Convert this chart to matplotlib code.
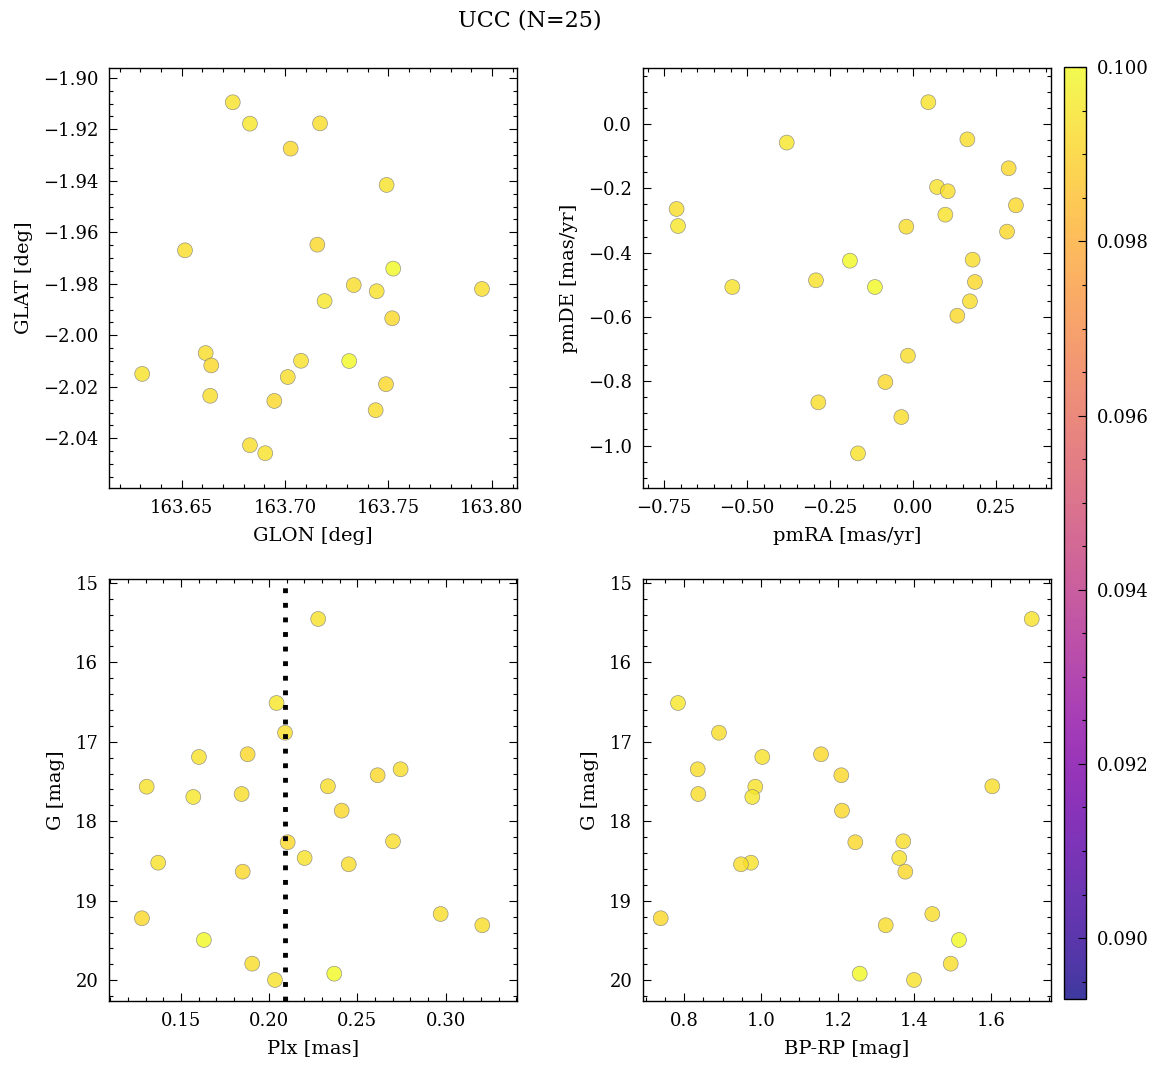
import matplotlib
matplotlib.use("Agg")
import matplotlib.pyplot as plt
import numpy as np
from matplotlib.colors import Normalize

plt.rcParams['font.family'] = ['DejaVu Serif']
plt.rcParams['mathtext.fontset'] = 'dejavuserif'

# ---- data (25 stars) ----
glon = [163.6747, 163.6830, 163.7169, 163.7027, 163.7491, 163.6516, 163.7156,
        163.7332, 163.7443, 163.7952, 163.7191, 163.7518, 163.6616, 163.6643,
        163.6309, 163.7077, 163.7013, 163.7488, 163.6638, 163.6948, 163.7438,
        163.7523, 163.6830, 163.7310, 163.6904]
glat = [-1.9095, -1.9178, -1.9177, -1.9275, -1.9416, -1.9670, -1.9648,
        -1.9805, -1.9829, -1.9820, -1.9867, -1.9934, -2.0069, -2.0117,
        -2.0150, -2.0099, -2.0162, -2.0190, -2.0235, -2.0255, -2.0291,
        -1.9741, -2.0427, -2.0100, -2.0458]
pmra = [0.0455, -0.381, 0.163, 0.2874, 0.0717, 0.1039, 0.3093, -0.7127, 0.0967,
        -0.0208, -0.7084, 0.2825, 0.1789, 0.1858, -0.293, -0.5449, 0.1708,
        0.1328, -0.016, -0.084, -0.2858, -0.1906, -0.0358, -0.1154, -0.1663]
pmde = [0.0675, -0.058, -0.048, -0.1378, -0.196, -0.2094, -0.2529, -0.2644,
        -0.2821, -0.3194, -0.3173, -0.3349, -0.422, -0.4914, -0.4862, -0.507,
        -0.5515, -0.5962, -0.7206, -0.8025, -0.8657, -0.4252, -0.9113, -0.507,
        -1.0243]
plx = [0.2278, 0.2042, 0.2090, 0.1878, 0.1602, 0.2745, 0.2615, 0.2333, 0.1306,
       0.1844, 0.1570, 0.2411, 0.2702, 0.2105, 0.2201, 0.1371, 0.2451, 0.1850,
       0.2972, 0.1279, 0.3208, 0.1630, 0.1904, 0.2369, 0.2033]
gmag = [15.455, 16.512, 16.886, 17.157, 17.191, 17.346, 17.421, 17.560, 17.565,
        17.657, 17.694, 17.866, 18.252, 18.264, 18.462, 18.521, 18.541, 18.634,
        19.166, 19.220, 19.308, 19.493, 19.791, 19.917, 19.996]
bprp = [1.706, 0.7836, 0.8905, 1.1565, 1.0034, 0.8350, 1.2094, 1.6031, 0.9851,
        0.8365, 0.9773, 1.2112, 1.3710, 1.2459, 1.3606, 0.9739, 0.9478, 1.3763,
        1.4467, 0.7385, 1.3252, 1.5163, 1.4947, 1.2574, 1.3990]
prob = [0.0994, 0.0995, 0.0993, 0.0992, 0.0994, 0.0993, 0.0992, 0.0993, 0.0994,
        0.0993, 0.0995, 0.0992, 0.0993, 0.0992, 0.0994, 0.0994, 0.0993, 0.0992,
        0.0993, 0.0992, 0.0993, 0.1000, 0.0993, 0.1000, 0.0994]
plx_median = 0.209
n_stars = len(gmag)

vmin, vmax = 0.0893, 0.1000
W, H = 1161, 1067
fig = plt.figure(figsize=(W / 100, H / 100), dpi=100)

def box(x0, y0, x1, y1):
    return [x0 / W, 1 - y1 / H, (x1 - x0) / W, (y1 - y0) / H]

ax1 = fig.add_axes(box(109.3, 68.3, 516.7, 487.7))
ax2 = fig.add_axes(box(643.3, 68.3, 1050.7, 487.7))
ax3 = fig.add_axes(box(109.3, 579.3, 516.7, 1000.7))
ax4 = fig.add_axes(box(643.3, 579.3, 1050.7, 1000.7))
cax = fig.add_axes(box(1064.3, 67.3, 1086.0, 999.0))

norm = Normalize(vmin=vmin, vmax=vmax)
kw = dict(c=prob, cmap='plasma', norm=norm, s=115, alpha=0.8,
          edgecolors='grey', linewidths=0.5, zorder=3)

sc = ax1.scatter(glon, glat, **kw)
ax2.scatter(pmra, pmde, **kw)
ax3.scatter(plx, gmag, **kw)
ax4.scatter(bprp, gmag, **kw)
ax3.axvline(plx_median, color='black', lw=3.5, linestyle=(0, (1, 2)), zorder=4)

ax1.set_xlim(163.615, 163.812)
ax1.set_ylim(-2.0592, -1.8963)
ax2.set_xlim(-0.813, 0.414)
ax2.set_ylim(-1.131, 0.173)
ax3.set_xlim(0.1094, 0.3403)
ax3.set_ylim(20.257, 14.956)
ax4.set_xlim(0.6931, 1.7554)
ax4.set_ylim(20.257, 14.956)

ax1.set_xticks([163.65, 163.70, 163.75, 163.80])
ax1.set_yticks([-1.90, -1.92, -1.94, -1.96, -1.98, -2.00, -2.02, -2.04])
ax2.set_xticks([-0.75, -0.50, -0.25, 0.00, 0.25])
ax2.set_yticks([0.0, -0.2, -0.4, -0.6, -0.8, -1.0])
ax3.set_xticks([0.15, 0.20, 0.25, 0.30])
ax3.set_yticks([15, 16, 17, 18, 19, 20])
ax4.set_xticks([0.8, 1.0, 1.2, 1.4, 1.6])
ax4.set_yticks([15, 16, 17, 18, 19, 20])

tfs, lfs = 13, 14
lp = 7
ax1.set_xlabel('GLON [deg]', fontsize=lfs, labelpad=lp)
ax1.set_ylabel('GLAT [deg]', fontsize=lfs, labelpad=lp)
ax2.set_xlabel('pmRA [mas/yr]', fontsize=lfs, labelpad=lp)
ax2.set_ylabel('pmDE [mas/yr]', fontsize=lfs, labelpad=lp)
ax3.set_xlabel('Plx [mas]', fontsize=lfs, labelpad=lp)
ax3.set_ylabel('G [mag]', fontsize=lfs, labelpad=lp)
ax4.set_xlabel('BP-RP [mag]', fontsize=lfs, labelpad=lp)
ax4.set_ylabel('G [mag]', fontsize=lfs, labelpad=lp)

for ax in (ax1, ax2, ax3, ax4):
    ax.minorticks_on()
    ax.tick_params(which='both', direction='in', top=True, right=True,
                   labelsize=tfs, width=0.8, pad=8)
    ax.tick_params(which='major', length=5.5)
    ax.tick_params(which='minor', length=3)
    for sp in ax.spines.values():
        sp.set_linewidth(1.0)

cb = fig.colorbar(sc, cax=cax)
cb.set_ticks([0.090, 0.092, 0.094, 0.096, 0.098, 0.100])
cb.ax.yaxis.set_major_formatter(matplotlib.ticker.FormatStrFormatter('%.3f'))
cb.ax.minorticks_on()
cb.ax.tick_params(which='both', direction='in', labelsize=tfs, width=0.8, pad=8)
cb.ax.tick_params(which='major', length=5.5)
cb.ax.tick_params(which='minor', length=3)
cb.outline.set_linewidth(1.0)

fig.text(0.456, 0.981, f'UCC (N={n_stars})', ha='center', va='center', fontsize=16)

fig.savefig('out.png', dpi=100)
